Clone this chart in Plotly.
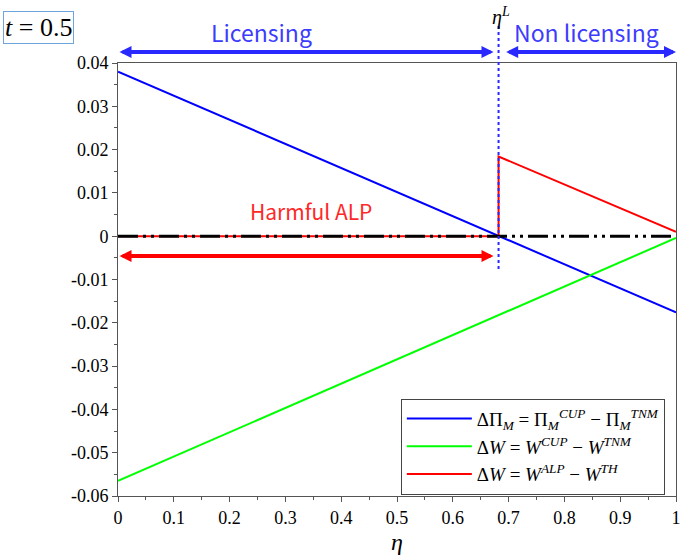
import plotly.graph_objects as go

# Werte
eta = [0.0, 1.0]
d_pi_m = [0.0380, -0.0176]      # blau
d_w_cup = [-0.0565, -0.0004]    # gruen
eta_L = 0.682
red_x = [0.0, eta_L, eta_L, 1.0]
red_y = [0.0, 0.0, 0.0184, 0.0010]
zero_x = [0.0, 1.0]
zero_y = [0.0, 0.0]

xtick_vals = [0, 0.1, 0.2, 0.3, 0.4, 0.5, 0.6, 0.7, 0.8, 0.9, 1]
xtick_text = ["0", "0.1", "0.2", "0.3", "0.4", "0.5", "0.6", "0.7", "0.8", "0.9", "1"]
ytick_vals = [0.04, 0.03, 0.02, 0.01, 0, -0.01, -0.02, -0.03, -0.04, -0.05, -0.06]
ytick_text = ["0.04", "0.03", "0.02", "0.01", "0", "-0.01", "-0.02", "-0.03", "-0.04", "-0.05", "-0.06"]
y_range = [-0.06, 0.04]

SERIF = "Liberation Serif"
SANS = "Noto Sans CJK JP"
BLUE_TXT = "rgb(60,60,255)"
RED_TXT = "rgb(255,40,40)"

fig = go.Figure()

fig.add_trace(go.Scatter(
    x=eta, y=d_pi_m, mode="lines", line=dict(color="rgb(0,0,255)", width=2),
    name="ΔΠ<sub><i>M</i></sub> = Π<sub><i>M</i></sub><sup><i>CUP</i></sup> − Π<sub><i>M</i></sub><sup><i>TNM</i></sup>"
))
fig.add_trace(go.Scatter(
    x=eta, y=d_w_cup, mode="lines", line=dict(color="rgb(0,255,0)", width=2),
    name="Δ<i>W</i> = <i>W</i><sup><i>CUP</i></sup> − <i>W</i><sup><i>TNM</i></sup>"
))
fig.add_trace(go.Scatter(
    x=red_x, y=red_y, mode="lines", line=dict(color="rgb(255,0,0)", width=2),
    name="Δ<i>W</i> = <i>W</i><sup><i>ALP</i></sup> − <i>W</i><sup><i>TH</i></sup>"
))
# schwarze Strich-Punkt-Punkt Linie bei 0
fig.add_trace(go.Scatter(
    x=zero_x, y=zero_y, mode="lines", showlegend=False, hoverinfo="skip",
    line=dict(color="black", width=3, dash="20px,5px,3px,5px,3px,5px")
))


def py(v):
    # Datenwert -> Papierkoordinate (y)
    return (v - y_range[0]) / (y_range[1] - y_range[0])


# blaue gepunktete Linie bei eta_L
fig.add_shape(type="line", xref="paper", yref="paper",
              x0=eta_L, x1=eta_L, y0=py(-0.0076), y1=py(0.0486),
              line=dict(color="rgb(40,40,255)", width=2, dash="dot"))


def arrow(x0, x1, y, color, width=4):
    fig.add_annotation(x=x1, y=py(y), ax=x0, ay=0, xref="x", yref="paper", axref="x", ayref="pixel",
                       text="", showarrow=True, arrowside="end+start",
                       arrowhead=2, startarrowhead=2, arrowsize=0.6, startarrowsize=0.6,
                       arrowwidth=width, arrowcolor=color, standoff=0, startstandoff=0)


arrow(0.0, 0.673, 0.04254, "rgb(40,40,255)")
arrow(0.693, 1.0, 0.04254, "rgb(40,40,255)")
arrow(0.0, 0.673, -0.0046, "rgb(255,0,0)")

fig.add_annotation(x=0.258, y=py(0.0471), xref="x", yref="paper", yanchor="middle",
                   text="Licensing", showarrow=False,
                   font=dict(family=SANS, size=23, color=BLUE_TXT))
fig.add_annotation(x=0.84, y=py(0.0471), xref="x", yref="paper", yanchor="middle",
                   text="Non licensing", showarrow=False,
                   font=dict(family=SANS, size=23, color=BLUE_TXT))
fig.add_annotation(x=0.346, y=0.0058, xref="x", yref="y", yanchor="middle",
                   text="Harmful ALP", showarrow=False,
                   font=dict(family=SANS, size=21, color=RED_TXT))
fig.add_annotation(x=0.686, y=py(0.0508), xref="x", yref="paper", yanchor="middle",
                   text="<i>η</i><sup><i>L</i></sup>",
                   showarrow=False, font=dict(family=SERIF, size=20, color="black"))
fig.add_annotation(x=-0.206, y=1.081, xref="paper", yref="paper", xanchor="left", yanchor="middle",
                   text="<i>t</i> = 0.5", showarrow=False, bordercolor="rgb(110,165,220)",
                   borderwidth=1, borderpad=1, bgcolor="white",
                   font=dict(family=SERIF, size=26, color="black"))

fig.update_layout(
    width=685, height=555,
    margin=dict(l=118, r=4, t=63, b=59),
    paper_bgcolor="white", plot_bgcolor="white",
    showlegend=True,
    legend=dict(x=0.98, y=0.003, xanchor="right", yanchor="bottom",
                bgcolor="white", bordercolor="#444", borderwidth=1,
                font=dict(family=SERIF, size=19, color="black"), itemwidth=65,
                tracegroupgap=0),
    xaxis=dict(range=[0, 1], tickvals=xtick_vals, ticktext=xtick_text,
               showgrid=False, zeroline=False, showline=True, mirror=True,
               linecolor="#555", linewidth=1, ticks="outside", ticklen=5,
               tickcolor="#555", ticklabeloverflow="allow",
               minor=dict(dtick=0.05, ticks="outside", ticklen=3, tickcolor="#555"),
               tickfont=dict(family=SERIF, size=18, color="black"),
               title=dict(text="<i>η</i>", font=dict(family=SERIF, size=24, color="black"),
                          standoff=6)),
    yaxis=dict(range=y_range, tickvals=ytick_vals, ticktext=ytick_text,
               showgrid=False, zeroline=False, showline=True, mirror=True,
               linecolor="#555", linewidth=1, ticks="outside", ticklen=5,
               tickcolor="#555",
               minor=dict(dtick=0.005, ticks="outside", ticklen=3, tickcolor="#555"),
               tickfont=dict(family=SERIF, size=18, color="black")),
)

fig.write_html("out.html", config={"displayModeBar": False},
               post_script="document.body.style.margin='0px';")
